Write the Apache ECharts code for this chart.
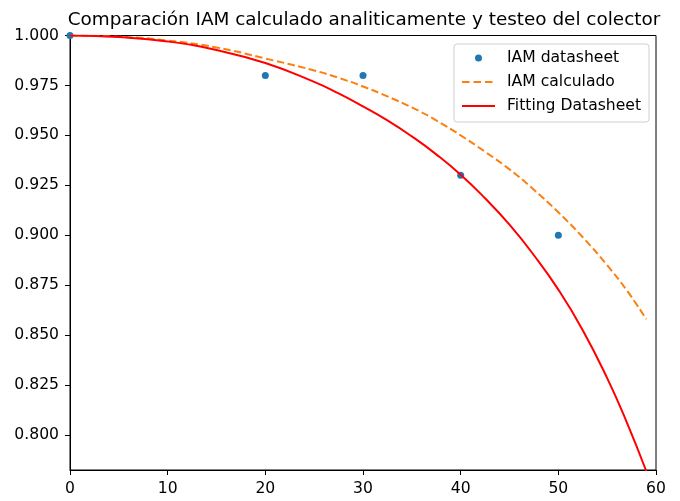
<!DOCTYPE html>
<html>
<head>
<meta charset="utf-8">
<script src="https://cdn.jsdelivr.net/npm/echarts@6/dist/echarts.min.js"></script>
<style>
  html, body { margin: 0; padding: 0; background: #fff; }
  #chart { width: 680px; height: 501px; }
</style>
</head>
<body>
<div id="chart"></div>
<script>
// Datasheet measurements (angle of incidence in degrees, IAM)
const datasheetAngles = [0, 20, 30, 40, 50];
const datasheetIAM = [1.0, 0.98, 0.98, 0.93, 0.90];

// Angles at which the two curves are sampled (denser where they bend most)
const curveAngles = [0, 5, 10, 15, 20, 25, 27.5, 30, 32.5, 35, 37.5, 40, 42.5, 45, 47.5, 50, 52.5, 55, 57, 59];
// IAM computed analytically
const iamCalculado = [1.0, 0.9994, 0.9975, 0.9940, 0.9885, 0.9825, 0.9788, 0.9745, 0.9695, 0.9640, 0.9575, 0.9500, 0.9418, 0.9330, 0.9228, 0.9115, 0.8990, 0.8850, 0.8725, 0.8580];
// Curve fitted to the datasheet points
const iamFitting = [1.0, 0.9992, 0.9970, 0.9927, 0.9862, 0.9768, 0.9710, 0.9645, 0.9575, 0.9495, 0.9405, 0.9303, 0.9185, 0.9053, 0.8900, 0.8728, 0.8525, 0.8285, 0.8065, 0.7820];

// Axis ticks
const xTicks = [0, 10, 20, 30, 40, 50, 60];
const yTicks = [0.800, 0.825, 0.850, 0.875, 0.900, 0.925, 0.950, 0.975, 1.000];

const pairs = (xs, ys) => xs.map((x, i) => [x, ys[i]]);

const FONT = 'DejaVu Sans';
const TICK_FONT = 15.6;

// Legend handles: a dot, three dashes, a solid stroke (box 33 x 14)
const ICON_DOT = 'path://M0,0M33,14M13,7A3.5,3.5 0 1,0 20,7A3.5,3.5 0 1,0 13,7Z';
const ICON_DASH = 'path://M0,0M33,14M0,6h7.5v2h-7.5zM11.5,6h7.5v2h-7.5zM23,6h7.5v2h-7.5z';
const ICON_SOLID = 'path://M0,0M33,14M0,6h33v2h-33z';

const chart = echarts.init(document.getElementById('chart'), null, { renderer: 'canvas' });

chart.setOption({
  animation: false,
  backgroundColor: '#ffffff',
  title: {
    text: 'Comparación IAM calculado analiticamente y testeo del colector',
    left: 359,
    textAlign: 'center',
    top: 6,
    textStyle: { fontFamily: FONT, fontSize: 18.4, fontWeight: 'normal', color: '#000' }
  },
  grid: {
    left: 70, right: 24, top: 35.5, bottom: 31,
    show: true, borderColor: '#000', borderWidth: 1, backgroundColor: 'transparent'
  },
  legend: {
    orient: 'vertical',
    right: 31,
    top: 44,
    padding: [6, 8, 8, 8],
    itemGap: 8,
    itemWidth: 33,
    itemHeight: 17.5,
    backgroundColor: 'rgba(255,255,255,0.8)',
    borderColor: '#d0d0d0',
    borderWidth: 1,
    borderRadius: 3,
    textStyle: { fontFamily: FONT, fontSize: TICK_FONT, color: '#000', padding: [0, 0, 0, 7] },
    data: [
      { name: 'IAM datasheet', icon: ICON_DOT, itemStyle: { color: '#1f77b4' } },
      { name: 'IAM calculado', icon: ICON_DASH, itemStyle: { color: '#ff7f0e' } },
      { name: 'Fitting Datasheet', icon: ICON_SOLID, itemStyle: { color: '#ff0000' } }
    ]
  },
  xAxis: {
    type: 'value',
    min: xTicks[0],
    max: xTicks[xTicks.length - 1],
    interval: 10,
    axisLine: { show: true, onZero: false, lineStyle: { color: '#000', width: 1 } },
    axisTick: { show: true, length: 5, lineStyle: { color: '#000', width: 1 } },
    axisLabel: { fontFamily: FONT, fontSize: TICK_FONT, color: '#000', margin: 11 },
    splitLine: { show: false }
  },
  yAxis: {
    type: 'value',
    min: 0.7825,
    max: 1.0,
    axisLine: { show: true, onZero: false, lineStyle: { color: '#000', width: 1 } },
    axisTick: { show: true, length: 5, customValues: yTicks, lineStyle: { color: '#000', width: 1 } },
    axisLabel: {
      fontFamily: FONT, fontSize: TICK_FONT, color: '#000', margin: 11,
      customValues: yTicks,
      formatter: v => Number(v).toFixed(3)
    },
    splitLine: { show: false }
  },
  series: [
    {
      name: 'IAM datasheet',
      type: 'scatter',
      data: pairs(datasheetAngles, datasheetIAM),
      symbol: 'circle',
      symbolSize: 7,
      itemStyle: { color: '#1f77b4', opacity: 1 }
    },
    {
      name: 'IAM calculado',
      type: 'line',
      data: pairs(curveAngles, iamCalculado),
      smooth: 0.5,
      symbol: 'none',
      lineStyle: { color: '#ff7f0e', width: 2, type: [7.5, 3.5] },
      itemStyle: { color: '#ff7f0e' }
    },
    {
      name: 'Fitting Datasheet',
      type: 'line',
      data: pairs(curveAngles, iamFitting),
      smooth: 0.5,
      symbol: 'none',
      lineStyle: { color: '#ff0000', width: 2 },
      itemStyle: { color: '#ff0000' }
    }
  ]
});
</script>
</body>
</html>
